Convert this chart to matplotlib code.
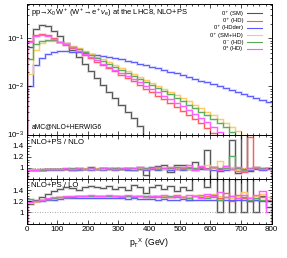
import matplotlib

matplotlib.use("Agg")
import matplotlib.pyplot as plt
import numpy as np
from matplotlib.ticker import FixedLocator, FuncFormatter, MultipleLocator, LogLocator

plt.rcParams["font.family"] = ["Liberation Sans", "DejaVu Sans"]
plt.rcParams["mathtext.fontset"] = "custom"
plt.rcParams["mathtext.rm"] = "Liberation Sans"
plt.rcParams["mathtext.it"] = "Liberation Sans:italic"

# 40 bins of 20 GeV from 0 to 800
bin_edges = list(range(0, 820, 20))

labels = ["0\u207a (SM)", "0\u207a (HD)", "0\u207a (HDder)", "0\u207a (SM+HD)", "0\u207b (HD)", "0$^{\\pm}$ (HD)"]
colors = ["#555555", "#ff5a5a", "#5a5aff", "#ffc860", "#5aaa5a", "#ff5aff"]

sm = [0.065, 0.16, 0.19, 0.18, 0.145, 0.11, 0.08, 0.058, 0.042, 0.030,
      0.021, 0.0150, 0.0108, 0.0078, 0.0057, 0.0041, 0.0030, 0.0022, 0.0015, 0.0009,
      0.00065, 0.00048, 0.00035, 0.00026, 0.00019, 0.00014, 0.0001, 7.5e-5, 5.5e-5, 4e-5,
      3e-5, 2.2e-5, 1.6e-5, 1.2e-5, 9e-6, 6.5e-6, 5e-6, 3.5e-6, 2.5e-6, 1.8e-6]
hd = [0.088, 0.118, 0.125, 0.118, 0.100, 0.086, 0.074, 0.063, 0.054, 0.046,
      0.039, 0.033, 0.028, 0.024, 0.0205, 0.0175, 0.0150, 0.0127, 0.0107, 0.0090,
      0.0076, 0.0064, 0.0054, 0.0045, 0.0038, 0.0031, 0.0026, 0.0021, 0.0017, 0.00135,
      0.00105, 0.00082, 0.00064, 0.0005, 0.00039, 0.0003, 0.00023, 0.00018, 0.00014, 0.00011]
hdder = [0.010, 0.028, 0.040, 0.048, 0.052, 0.054, 0.054, 0.053, 0.052, 0.050,
         0.048, 0.046, 0.044, 0.041, 0.039, 0.037, 0.034, 0.032, 0.030, 0.028,
         0.026, 0.0240, 0.0221, 0.0203, 0.0187, 0.0172, 0.0158, 0.0145, 0.0133, 0.0121,
         0.0110, 0.0100, 0.0091, 0.0083, 0.0076, 0.0069, 0.0063, 0.0057, 0.0052, 0.0047]
sm_hd = [0.018, 0.058, 0.080, 0.088, 0.090, 0.086, 0.079, 0.071, 0.063, 0.055,
         0.048, 0.042, 0.037, 0.032, 0.028, 0.0243, 0.0211, 0.0183, 0.0159, 0.0138,
         0.0119, 0.0103, 0.0089, 0.0077, 0.0066, 0.0057, 0.0049, 0.0042, 0.0036, 0.0030,
         0.0025, 0.0021, 0.00175, 0.00145, 0.00118, 0.00096, 0.00078, 0.00063, 0.0005, 0.0004]
cpodd = [0.038, 0.075, 0.090, 0.094, 0.092, 0.084, 0.075, 0.067, 0.059, 0.052,
         0.045, 0.039, 0.034, 0.030, 0.026, 0.0225, 0.0195, 0.0168, 0.0145, 0.0125,
         0.0108, 0.0093, 0.0080, 0.0068, 0.0058, 0.0050, 0.0042, 0.0036, 0.0030, 0.0025,
         0.0021, 0.00172, 0.00140, 0.00113, 0.00090, 0.00072, 0.00057, 0.00045, 0.00035, 0.00027]
cpmix = [0.085, 0.112, 0.118, 0.112, 0.098, 0.086, 0.075, 0.065, 0.056, 0.048,
         0.041, 0.035, 0.030, 0.026, 0.0225, 0.0193, 0.0166, 0.0143, 0.0122, 0.0104,
         0.0089, 0.0076, 0.0064, 0.0054, 0.0046, 0.0039, 0.0032, 0.0027, 0.0022, 0.0018,
         0.00145, 0.00115, 0.0009, 0.0007, 0.00055, 0.00043, 0.00034, 0.00026, 0.0002, 0.00016]

# NLO+PS / NLO
sm_nlo = [0.98, 0.97, 0.97, 0.98, 0.98, 0.98, 0.98, 0.97, 0.99, 0.98,
          1.02, 0.98, 1.00, 1.00, 0.99, 0.98, 1.00, 0.97, 1.02, 0.88,
          1.02, 1.03, 1.05, 0.93, 1.05, 1.06, 0.98, 1.10, 1.00, 1.33,
          0.80, 0.95, 1.00, 1.50, 0.90, 1.70, 0.95, 1.00, 0.98, 1.00]
hd_nlo = [0.97, 0.97, 0.97, 0.98, 0.98, 0.98, 0.98, 0.98, 0.98, 0.98,
          0.98, 0.98, 0.99, 0.98, 0.98, 0.99, 0.98, 0.99, 0.98, 0.99,
          0.98, 0.99, 0.99, 1.00, 0.98, 0.99, 1.01, 0.98, 1.00, 0.99,
          1.02, 0.97, 1.03, 0.98, 0.95, 0.92, 1.55, 1.00, 1.00, 0.98]
hdder_nlo = [0.97, 0.97, 0.97, 0.97, 0.97, 0.97, 0.98, 0.97, 0.97, 0.98,
             0.97, 0.98, 0.97, 0.98, 0.97, 0.98, 0.97, 0.97, 0.98, 0.97,
             0.98, 0.97, 0.98, 0.97, 0.98, 0.97, 0.98, 0.97, 0.98, 0.98,
             0.97, 0.98, 0.97, 0.98, 0.97, 0.98, 0.97, 0.98, 0.97, 0.98]
sm_hd_nlo = [0.98, 0.97, 0.98, 0.98, 0.98, 0.98, 0.99, 0.98, 0.98, 0.99,
             0.98, 0.99, 0.98, 0.99, 0.98, 0.99, 1.00, 0.98, 0.99, 1.00,
             0.99, 1.00, 0.98, 1.01, 0.99, 1.02, 0.98, 1.00, 1.03, 1.05,
             0.99, 1.13, 1.00, 1.02, 0.97, 1.00, 0.98, 1.01, 0.99, 1.00]
cpodd_nlo = [0.96, 0.97, 0.97, 0.98, 0.98, 0.98, 0.98, 0.99, 0.98, 0.98,
             0.99, 0.98, 0.99, 0.98, 0.99, 0.98, 0.99, 0.99, 0.98, 1.00,
             0.99, 0.98, 1.00, 0.99, 1.01, 0.98, 1.00, 0.99, 1.02, 0.98,
             1.01, 0.99, 1.00, 1.21, 1.00, 0.97, 1.00, 1.02, 0.99, 1.00]
cpmix_nlo = [0.97, 0.97, 0.98, 0.98, 0.98, 0.98, 0.99, 0.98, 0.99, 0.98,
             0.99, 0.98, 0.99, 1.00, 0.98, 0.99, 1.00, 0.99, 1.01, 0.98,
             1.00, 1.01, 0.99, 1.02, 0.98, 1.01, 1.05, 0.97, 1.03, 0.98,
             1.02, 0.96, 1.04, 0.98, 1.02, 0.95, 1.00, 1.02, 0.98, 1.00]

# NLO+PS / LO
sm_lo = [1.15, 1.22, 1.28, 1.33, 1.38, 1.42, 1.45, 1.44, 1.40, 1.45,
         1.48, 1.45, 1.43, 1.48, 1.42, 1.46, 1.40, 1.50, 1.45, 1.35,
         1.45, 1.50, 1.42, 1.47, 1.38, 1.45, 1.40, 1.65, 1.70, 1.45,
         1.65, 1.00, 1.70, 1.00, 1.60, 1.00, 1.70, 1.00, 1.30, 1.10]
hd_lo = [1.18, 1.20, 1.22, 1.24, 1.26, 1.27, 1.28, 1.28, 1.29, 1.29,
         1.30, 1.29, 1.30, 1.29, 1.30, 1.28, 1.29, 1.30, 1.29, 1.28,
         1.29, 1.28, 1.30, 1.27, 1.31, 1.27, 1.22, 1.30, 1.32, 1.30,
         1.27, 1.25, 1.35, 1.20, 1.32, 1.25, 1.20, 1.22, 1.28, 1.22]
hdder_lo = [1.20, 1.20, 1.21, 1.22, 1.23, 1.24, 1.25, 1.25, 1.26, 1.26,
            1.26, 1.25, 1.26, 1.25, 1.25, 1.25, 1.24, 1.25, 1.24, 1.24,
            1.24, 1.23, 1.24, 1.23, 1.23, 1.24, 1.23, 1.22, 1.23, 1.22,
            1.23, 1.22, 1.22, 1.23, 1.22, 1.22, 1.21, 1.22, 1.20, 1.21]
sm_hd_lo = [1.17, 1.19, 1.22, 1.24, 1.25, 1.27, 1.28, 1.29, 1.29, 1.30,
            1.30, 1.30, 1.29, 1.30, 1.30, 1.29, 1.30, 1.29, 1.30, 1.29,
            1.30, 1.29, 1.30, 1.28, 1.30, 1.29, 1.27, 1.31, 1.30, 1.28,
            1.33, 1.30, 1.28, 1.25, 1.30, 1.36, 1.28, 1.30, 1.33, 1.28]
cpodd_lo = [1.24, 1.21, 1.22, 1.24, 1.26, 1.27, 1.28, 1.28, 1.29, 1.29,
            1.30, 1.29, 1.30, 1.29, 1.29, 1.30, 1.29, 1.28, 1.29, 1.30,
            1.28, 1.29, 1.28, 1.29, 1.27, 1.28, 1.26, 1.30, 1.27, 1.25,
            1.32, 1.22, 1.28, 1.30, 1.25, 1.28, 1.22, 1.26, 1.23, 1.20]
cpmix_lo = [1.18, 1.20, 1.23, 1.25, 1.27, 1.28, 1.29, 1.29, 1.30, 1.30,
            1.31, 1.30, 1.30, 1.31, 1.29, 1.30, 1.31, 1.29, 1.30, 1.28,
            1.30, 1.29, 1.31, 1.28, 1.30, 1.27, 1.31, 1.29, 1.26, 1.33,
            1.29, 1.36, 1.27, 1.30, 1.26, 1.31, 1.25, 1.32, 1.38, 1.00]

dists = [sm, hd, hdder, sm_hd, cpodd, cpmix]
ratios_nlo = [sm_nlo, hd_nlo, hdder_nlo, sm_hd_nlo, cpodd_nlo, cpmix_nlo]
ratios_lo = [sm_lo, hd_lo, hdder_lo, sm_hd_lo, cpodd_lo, cpmix_lo]

W, H = 287, 258
fig = plt.figure(figsize=(W / 100, H / 100), dpi=100)
left, right = 26.5 / W, 271.7 / W


def frac(y0, y1):
    return [left, 1 - y1 / H, right - left, (y1 - y0) / H]


ax_main = fig.add_axes(frac(4, 134.5))
ax_nlo = fig.add_axes(frac(134.5, 179))
ax_lo = fig.add_axes(frac(179, 223.5))

edges = np.array(bin_edges)


def draw_steps(ax, series):
    # gnuplot style: pale band under a thin line
    for vals, c in zip(series, colors):
        ax.stairs(vals, edges, color=c, lw=1.8, alpha=0.3)
        ax.stairs(vals, edges, color=c, lw=0.7)


draw_steps(ax_main, dists)
draw_steps(ax_nlo, ratios_nlo)
draw_steps(ax_lo, ratios_lo)

ax_main.set_yscale("log")
ax_main.set_ylim(1e-3, 0.52)
ax_main.yaxis.set_major_locator(FixedLocator([1e-3, 1e-2, 1e-1]))
ax_main.yaxis.set_minor_locator(LogLocator(subs=np.arange(2, 10)))
ax_main.yaxis.set_minor_formatter(plt.NullFormatter())

for ax in (ax_nlo, ax_lo):
    ax.set_ylim(0.8, 1.6)
    ax.yaxis.set_major_locator(FixedLocator([1.0, 1.2, 1.4]))
    ax.yaxis.set_minor_locator(MultipleLocator(0.05))
    ax.yaxis.set_major_formatter(FuncFormatter(lambda v, p: f"{v:g}"))
    ax.axhline(1.0, color="#888888", lw=0.6, ls=(0, (1, 2)))

for ax in (ax_main, ax_nlo, ax_lo):
    ax.set_xlim(0, 800)
    ax.xaxis.set_major_locator(MultipleLocator(100))
    ax.xaxis.set_minor_locator(MultipleLocator(20))
    ax.tick_params(which="both", direction="in", top=True, right=True,
                   labelsize=5.8, pad=2, width=0.5)
    ax.tick_params(which="major", length=3)
    ax.tick_params(which="minor", length=1.6)
    for s in ax.spines.values():
        s.set_linewidth(0.7)

ax_main.tick_params(labelbottom=False)
ax_nlo.tick_params(labelbottom=False)

ax_main.text(0.02, 0.935, "pp\u2192X$_0$W$^+$ (W$^+$\u2192e$^+\\nu_\\mathregular{e}$) at the LHC8, NLO+PS",
             transform=ax_main.transAxes, fontsize=5.45, va="center", ha="left")
ax_main.text(0.02, 0.06, "aMC@NLO+HERWIG6", transform=ax_main.transAxes,
             fontsize=4.9, va="center", ha="left")
ax_nlo.text(0.02, 0.83, "NLO+PS / NLO", transform=ax_nlo.transAxes,
            fontsize=5.6, va="center", ha="left")
ax_lo.text(0.02, 0.86, "NLO+PS / LO", transform=ax_lo.transAxes,
           fontsize=5.6, va="center", ha="left")

# legend, gnuplot style: right-aligned label then sample line
for i, (lab, c) in enumerate(zip(labels, colors)):
    yy = 0.929 - i * 0.0555
    ax_main.text(0.883, yy, lab, transform=ax_main.transAxes, fontsize=4.2,
                 ha="right", va="center")
    ax_main.plot([0.899, 0.961], [yy, yy], transform=ax_main.transAxes,
                 color=c, lw=0.8)

ax_lo.set_xlabel(r"p$_\mathregular{T}$$^\mathregular{X}$ (GeV)", fontsize=6.2, labelpad=2)

fig.savefig("out.png", dpi=100)
